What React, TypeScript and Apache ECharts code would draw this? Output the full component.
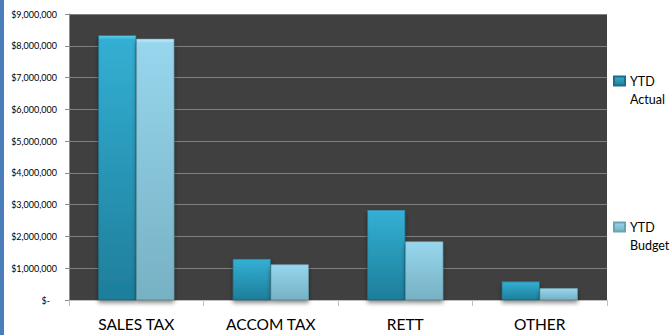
import React, { useEffect, useRef } from "react";
import * as echarts from "echarts";

const categories = ["SALES TAX", "ACCOM TAX", "RETT", "OTHER"];
const ytdActual = [8330000, 1290000, 2830000, 580000];
const ytdBudget = [8220000, 1120000, 1840000, 370000];
const seriesNames = ["YTD Actual", "YTD Budget"];

const FONT = "Lato, 'Open Sans', sans-serif";

export default function App() {
  const ref = useRef<HTMLDivElement>(null);
  useEffect(() => {
    document.body.style.margin = "0";
    const chart = echarts.init(ref.current!, undefined, { renderer: "svg" });
    const grad = (top: string, mid: string, bottom: string) =>
      new echarts.graphic.LinearGradient(0, 0, 0, 1, [
        { offset: 0, color: top },
        { offset: 0.015, color: mid },
        { offset: 1, color: bottom },
      ]);
    // leading blank line keeps the icon level with the first word
    const legendText = (name: string) => "\n" + name.replace(" ", "\n");
    const legendCommon = {
      orient: "vertical",
      left: 613,
      padding: 0,
      itemWidth: 11,
      itemHeight: 9,
      icon: "rect",
      selectedMode: false,
      formatter: legendText,
      textStyle: {
        fontFamily: FONT,
        fontSize: 12.5,
        color: "#000",
        lineHeight: 18,
        align: "left",
      },
    };
    chart.setOption({
      animation: false,
      textStyle: { fontFamily: FONT },
      graphic: [
        {
          type: "rect",
          shape: { x: 0, y: 0, width: 4, height: 335 },
          style: { fill: "#4a7ebb" },
        },
      ],
      legend: [
        { ...legendCommon, top: 54, data: [seriesNames[0]] },
        { ...legendCommon, top: 200, data: [seriesNames[1]] },
      ],
      grid: {
        left: 69,
        right: 64,
        top: 14,
        bottom: 35,
        show: true,
        backgroundColor: "#404040",
        borderWidth: 0,
      },
      xAxis: {
        type: "category",
        data: categories,
        axisLine: { show: true, lineStyle: { color: "#bfbfbf", width: 1 } },
        axisTick: { show: true, length: 6, interval: 0, lineStyle: { color: "#bfbfbf" } },
        axisLabel: { fontFamily: FONT, fontSize: 15.5, color: "#000", margin: 16 },
      },
      yAxis: {
        type: "value",
        min: 0,
        max: 9000000,
        interval: 1000000,
        axisLine: { show: true, lineStyle: { color: "#8c8c8c" } },
        axisTick: { show: true, length: 4, lineStyle: { color: "#8c8c8c" } },
        splitLine: { show: true, lineStyle: { color: "#808080", width: 1 } },
        axisLabel: {
          fontFamily: FONT,
          fontSize: 9,
          color: "#000",
          margin: 12,
          formatter: (v: number) => (v === 0 ? "$-   " : "$" + v.toLocaleString("en-US")),
        },
      },
      series: [
        {
          name: seriesNames[0],
          type: "bar",
          data: ytdActual,
          barWidth: 38,
          barGap: "0%",
          itemStyle: {
            color: grad("#5fd3ef", "#33afd3", "#1e7e9a"),
            borderColor: "#1c6f88",
            borderWidth: 0.6,
            shadowColor: "rgba(0,0,0,0.45)",
            shadowBlur: 4,
            shadowOffsetY: 3,
          },
        },
        {
          name: seriesNames[1],
          type: "bar",
          data: ytdBudget,
          barWidth: 38,
          itemStyle: {
            color: grad("#c2ecf8", "#97d6ed", "#76b1c4"),
            borderColor: "#6aa3b6",
            borderWidth: 0.6,
            shadowColor: "rgba(0,0,0,0.45)",
            shadowBlur: 4,
            shadowOffsetY: 3,
          },
        },
      ],
    });
    return () => chart.dispose();
  }, []);
  return <div ref={ref} style={{ width: 671, height: 335 }} />;
}
